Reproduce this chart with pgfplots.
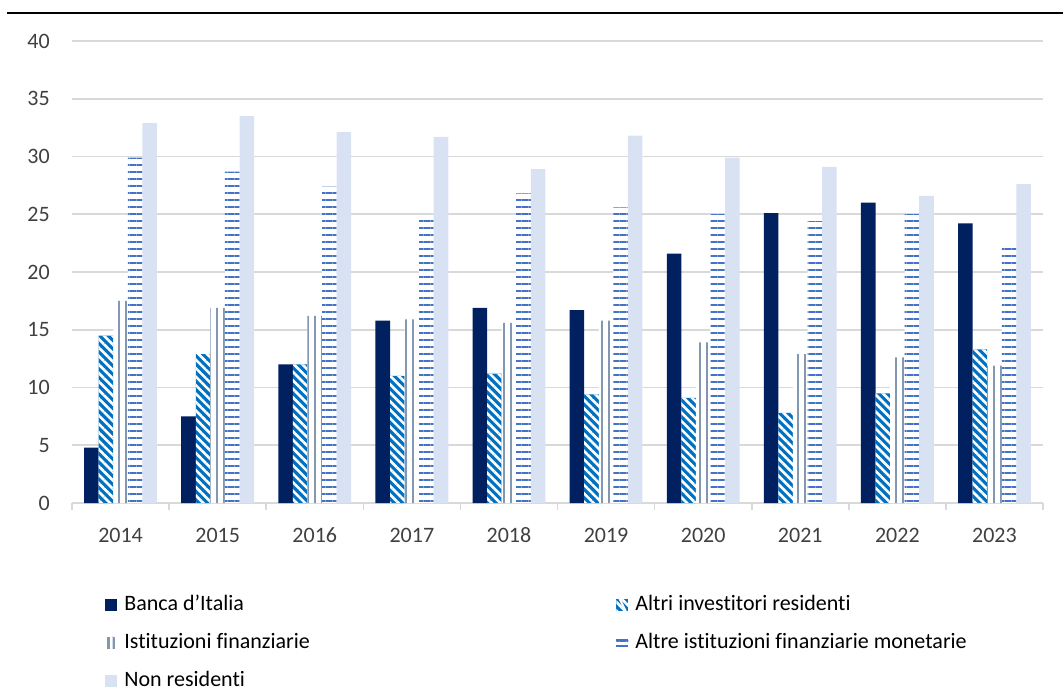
\documentclass[11pt,border=0pt]{standalone}
\usepackage{fontspec}
\setmainfont{Carlito}[Ligatures=NoCommon]
\usepackage{pgfplots}
\usepackage{pgfplotstable}
\pgfplotsset{compat=1.18}
\usetikzlibrary{patterns.meta}

\definecolor{banca}{HTML}{002060}
\definecolor{altri}{HTML}{0070C0}
\definecolor{istit}{HTML}{8497B0}
\definecolor{ifm}{HTML}{4472C4}
\definecolor{nonres}{HTML}{D9E2F3}
\definecolor{gridgray}{HTML}{D9D9D9}
\definecolor{txt}{HTML}{404040}

% detentori del debito pubblico, quote percentuali
\pgfplotstableread{
x year banca altri istit ifm nonres
0 2014 4.8  14.5 17.5 29.9 32.9
1 2015 7.5  12.9 16.9 28.7 33.5
2 2016 12.0 12.0 16.2 27.4 32.1
3 2017 15.8 11.0 15.9 24.9 31.7
4 2018 16.9 11.2 15.6 26.8 28.9
5 2019 16.7 9.4  15.8 25.6 31.8
6 2020 21.6 9.1  13.9 25.0 29.9
7 2021 25.1 7.8  12.9 24.4 29.1
8 2022 26.0 9.5  12.6 25.0 26.6
9 2023 24.2 13.3 11.9 22.5 27.6
}\datatable

\begin{document}
\begin{tikzpicture}
\useasboundingbox (0,0) rectangle (531.5pt,345pt);
\draw[line width=1pt] (3.5pt,338.5pt) -- (531.5pt,338.5pt);
\begin{axis}[
  at={(36pt,93.5pt)}, anchor=south west,
  scale only axis,
  width=485.5pt, height=231pt,
  ybar, bar width=0.15,
  xmin=-0.5, xmax=9.5,
  ymin=0, ymax=40,
  ytick={0,5,...,40},
  xtick={0,...,9},
  xticklabels={2014,2015,2016,2017,2018,2019,2020,2021,2022,2023},
  minor xtick={-0.5,0.5,...,9.5},
  major tick length=0pt,
  minor tick length=3.5pt,
  tick align=outside,
  minor x tick style={gridgray, line width=0.8pt},
  axis x line*=bottom,
  axis y line*=left,
  y axis line style={draw=none},
  x axis line style={gridgray, line width=0.8pt},
  ymajorgrids,
  major grid style={gridgray, line width=0.8pt},
  tick label style={txt, font=\fontsize{11}{13}\selectfont},
  /pgf/number format/assume math mode=true,
  yticklabel style={anchor=east, xshift=-7.3pt},
  xticklabel style={anchor=north, text height=7.5pt, yshift=-8.5pt},
  legend columns=2,
  legend cell align=left,
  legend style={at={(0.034,-0.1875)}, anchor=north west, draw=none, fill=none,
    inner sep=0pt, row sep=4.7pt, font=\fontsize{11}{13}\selectfont,
    text=black, nodes={text height=8pt, text depth=2.5pt}},
]
\addplot[draw=none, fill=banca, bar shift=-0.3,
  legend image code/.code={\fill[banca] (0pt,-3pt) rectangle (6pt,3pt);
    \path (7.5pt,0pt);}]
  table[x=x, y=banca] {\datatable};
\addlegendentry{\makebox[244pt][l]{Banca d’Italia}}
\addplot[draw=none, fill=altri, bar shift=-0.15,
  postaction={pattern={Lines[angle=-45,distance=3pt,line width=1.3pt]}, pattern color=white},
  legend image code/.code={\fill[altri] (0pt,-3pt) rectangle (6pt,3pt);
    \draw[white,line width=1pt] (1.5pt,3pt) -- (4.5pt,-3pt);
    \path (7.5pt,0pt);}]
  table[x=x, y=altri] {\datatable};
\addlegendentry{Altri investitori residenti}
\addplot[draw=none, fill=white, bar shift=0,
  postaction={pattern={Lines[angle=90,distance=3.5pt,line width=1.3pt]}, pattern color=istit},
  legend image code/.code={\fill[istit] (1pt,-3pt) rectangle (2.2pt,3pt);
    \fill[istit] (3.6pt,-3pt) rectangle (4.8pt,3pt);
    \path (0pt,0pt) (7.5pt,0pt);}]
  table[x=x, y=istit] {\datatable};
\addlegendentry{\makebox[244pt][l]{Istituzioni finanziarie}}
\addplot[draw=none, fill=white, bar shift=0.15,
  postaction={pattern={Lines[angle=0,distance=3.5pt,line width=0.9pt]}, pattern color=ifm},
  legend image code/.code={\fill[ifm] (0pt,0.8pt) rectangle (6pt,1.8pt);
    \fill[ifm] (0pt,-1.8pt) rectangle (6pt,-0.8pt);
    \path (7.5pt,0pt);}]
  table[x=x, y=ifm] {\datatable};
\addlegendentry{Altre istituzioni finanziarie monetarie}
\addplot[draw=none, fill=nonres, bar shift=0.3,
  legend image code/.code={\fill[nonres] (0pt,-3pt) rectangle (6pt,3pt);
    \path (7.5pt,0pt);}]
  table[x=x, y=nonres] {\datatable};
\addlegendentry{\makebox[244pt][l]{Non residenti}}
\end{axis}
\end{tikzpicture}
\end{document}
